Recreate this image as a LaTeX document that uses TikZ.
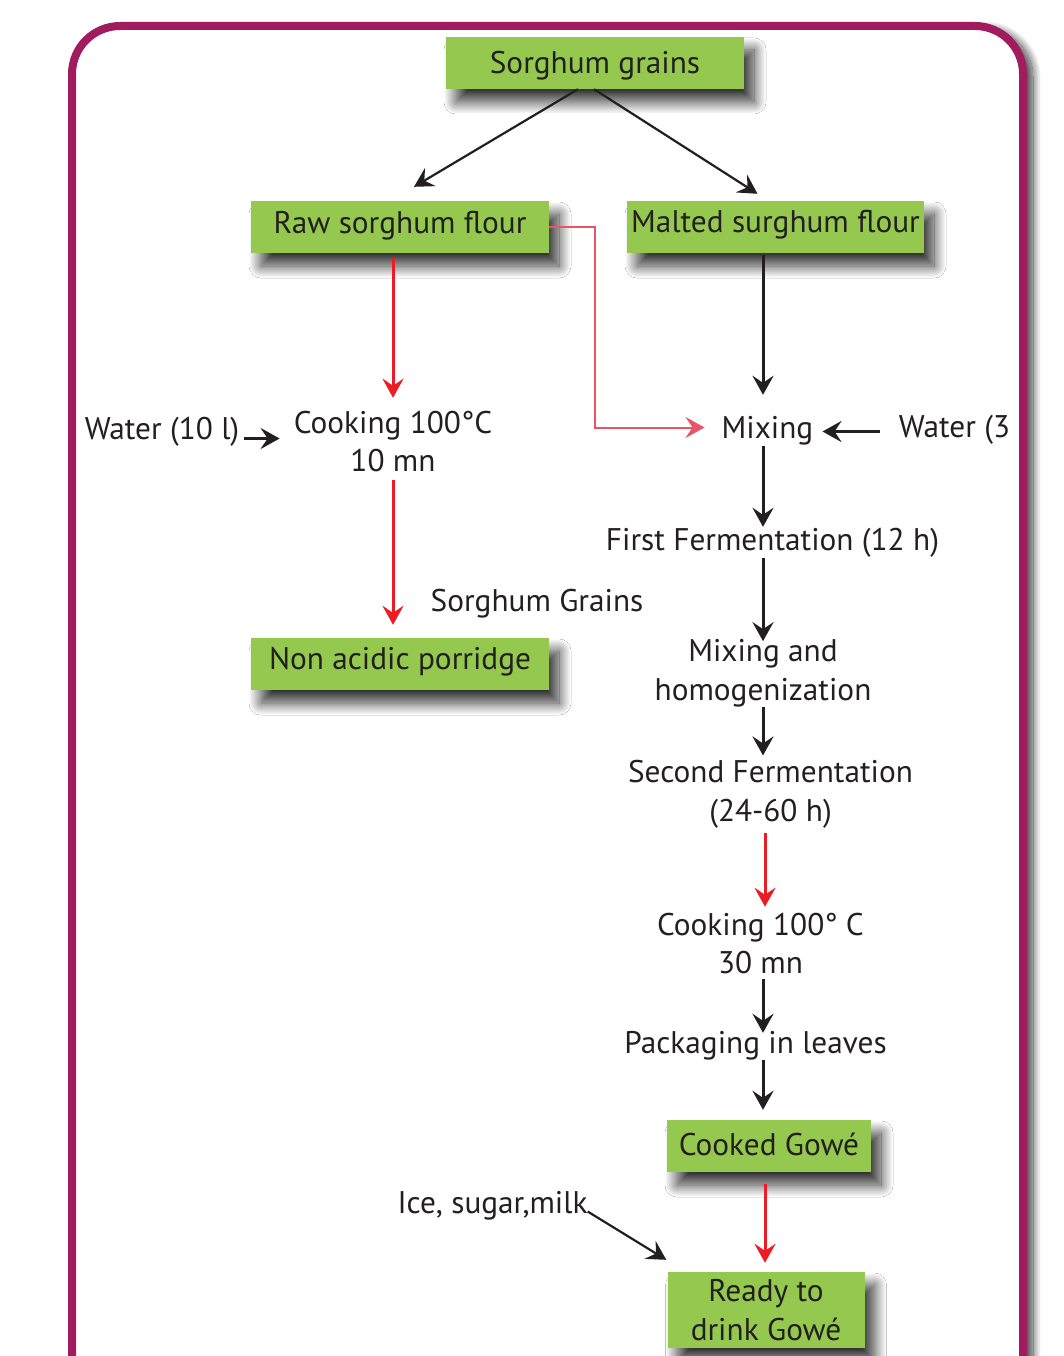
\documentclass[tikz,border=0pt]{standalone}
\usepackage{fontspec}
\setmainfont{PT Sans}
\usetikzlibrary{positioning, arrows.meta, shadows.blur}

\definecolor{plum}{RGB}{161,28,94}
\definecolor{leaf}{RGB}{149,200,78}
\definecolor{ink}{RGB}{35,31,32}
\definecolor{hotred}{RGB}{237,28,36}
\definecolor{linkpink}{RGB}{234,84,104}

\begin{document}
\begin{tikzpicture}[
    x=1pt, y=-1pt,
    on grid,
    every node/.style={font=\fontsize{31.3}{38.5}\selectfont, text=ink, inner sep=0pt},
    txt/.style={text height=21pt, text depth=6pt},
    lines/.style={align=center},
    box/.style={fill=leaf, minimum height=52pt,
        blur shadow={shadow xshift=10pt, shadow yshift=-13pt, shadow blur radius=12pt,
                     shadow blur steps=30, shadow opacity=80}},
    flow/.style={->, draw=ink, line width=3pt},
    hot/.style={->, draw=hotred, line width=3pt},
    link/.style={->, draw=linkpink, line width=2pt},
    >={Stealth[length=19pt, width=21pt, inset=7pt]}
]
   \useasboundingbox (0,0) rectangle (1064,1356);

   % frame
   \draw[plum, line width=8pt, rounded corners=48pt, fill=white,
         blur shadow={shadow xshift=10pt, shadow yshift=-3pt, shadow blur radius=8pt,
                      shadow blur steps=20, shadow opacity=75}]
         (72,26) rectangle (1023,1440);

   % green boxes
   \node[box, txt, text depth=0pt, minimum width=298pt] (grains) at (595,63) {Sorghum grains};
   \node[box, txt, text depth=7pt, minimum width=298pt] (raw) at (400,227) {Raw sorghum flour};
   \node[box, txt, text depth=9pt, minimum width=297pt, right=375.5pt of raw] (malted) {Malted surghum flour};
   \node[box, txt, text depth=11pt, minimum width=298pt, below=437pt of raw] (porridge) {Non acidic porridge};
   \node[box, txt, text depth=2pt, minimum width=204pt] (cooked) at (769,1146) {Cooked Gowé};
   \node[box, lines, minimum width=197pt, minimum height=76pt] (ready) at (766,1310) {Ready to\\drink Gowé};

   % left branch
   \node[lines] (cook1) at (393,441.5) {Cooking 100°C\\10 mn};
   \node[txt, anchor=base] (water1) at (162,439) {Water (10 l)};
   \node[txt, anchor=base] (sgrains) at (537,611) {Sorghum Grains};

   % right branch
   \coordinate (spine) at (763,0);
   \node[txt, anchor=base] (mix) at (767.5,438) {Mixing};
   \node[txt, anchor=base] (water2) at (954.5,437) {Water (3};
   \node[txt, anchor=base] (ferm1) at (772.5,550) {First Fermentation (12 h)};
   \node[lines] (homog) at (763,673) {Mixing and\\homogenization};
   \node[lines] (ferm2) at (770.5,794.5) {Second Fermentation\\(24-60 h)};
   \node[lines] (cook2) at (760.5,943.5) {Cooking 100° C\\30 mn};
   \node[txt, anchor=base] (pack) at (755.5,1053) {Packaging in leaves};
   \node[txt, anchor=base] (ice) at (492.5,1213) {Ice, sugar,milk};

   % connectors
   \draw[flow, line width=2.2pt] ([xshift=-17pt]grains.south) -- ([xshift=14pt, yshift=14pt]raw.north);
   \draw[flow, line width=2.2pt] ([xshift=-1pt]grains.south) -- ([xshift=-18pt, yshift=7pt]malted.north);

   \draw[hot, shorten <=5pt, shorten >=13pt] (raw.south -| cook1) -- (cook1.north);
   \draw[hot, shorten <=8pt, shorten >=13pt] (cook1.south) -- (cook1.south |- porridge.north);
   \draw[flow, line width=3.2pt, shorten <=5pt, shorten >=14pt] ([yshift=-7pt]water1.east) -- ([yshift=-7pt]water1.east -| cook1.west);
   \draw[link, shorten >=17pt] (raw.east) -- (raw.east -| grains) |- ([yshift=3pt]mix.west);

   \draw[flow, shorten <=2pt, shorten >=22pt] (malted.south -| spine) -- (mix.north -| spine);
   \draw[flow, line width=3.2pt, shorten <=19pt, shorten >=9pt] ([yshift=-2pt]water2.west) -- ([yshift=-2pt]water2.west -| mix.east);
   \draw[flow, shorten <=2pt, shorten >=2pt] (mix.south -| spine) -- (ferm1.north -| spine);
   \draw[flow, shorten <=2pt, shorten >=-2pt] (ferm1.south -| spine) -- (homog.north -| spine);
   \draw[flow, shorten >=5pt] (homog.south -| spine) -- (ferm2.north -| spine);
   \draw[hot, shorten <=4pt, shorten >=6pt] ([xshift=2pt]ferm2.south -| spine) -- ([xshift=2pt]cook2.north -| spine);
   \draw[flow, shorten <=5pt, shorten >=-1pt] (cook2.south -| spine) -- (pack.north -| spine);
   \draw[flow, shorten <=1pt, shorten >=10pt] (pack.south -| spine) -- (cooked.north -| spine);
   \draw[hot, shorten <=12pt, shorten >=9pt] ([xshift=2pt]cooked.south -| spine) -- ([xshift=2pt]ready.north -| spine);
   \draw[flow, line width=2.2pt] ([yshift=-6pt]ice.east) -- ([xshift=-1pt, yshift=12pt]ready.north west);

\end{tikzpicture}
\end{document}
